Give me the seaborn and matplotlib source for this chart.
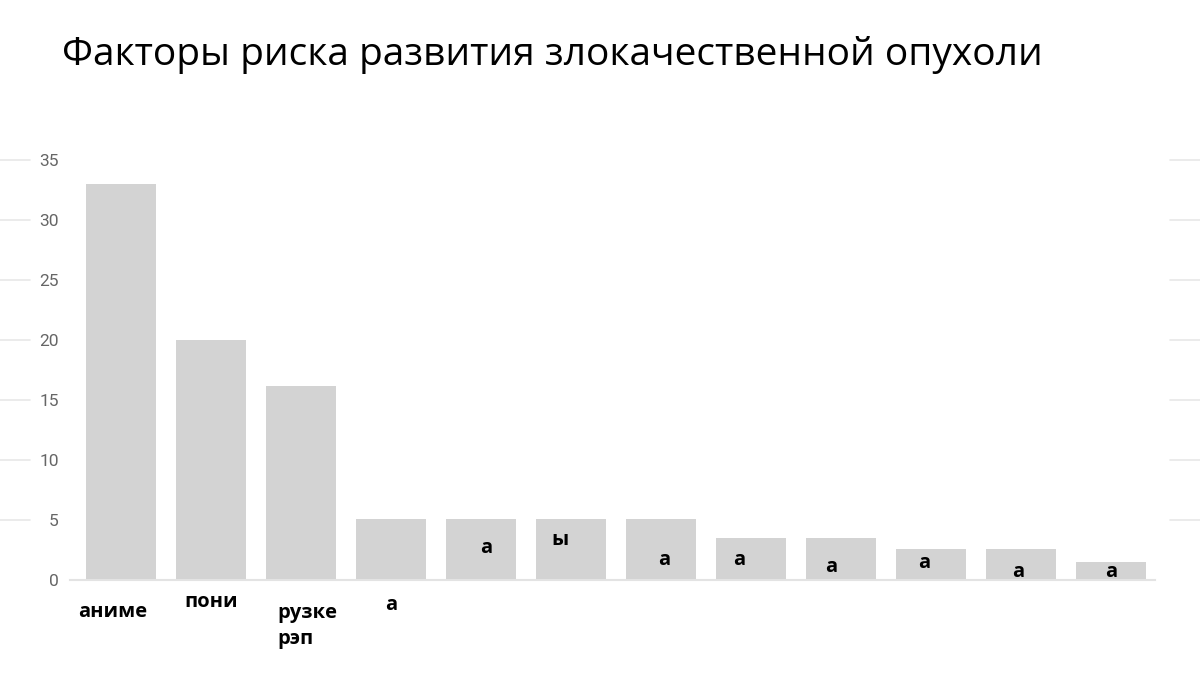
import matplotlib
matplotlib.use('Agg')
import pandas as pd
import seaborn as sns
import matplotlib.pyplot as plt
import matplotlib.transforms as mtransforms

# Данные
labels = ['аниме', 'пони', 'рузке\nрэп', 'а', 'а', 'ы', 'а', 'а', 'а', 'а', 'а', 'а']
values = [33, 20, 16.2, 5.1, 5.1, 5.1, 5.1, 3.5, 3.5, 2.6, 2.6, 1.5]
# положения подписей (в единицах осей) - подписи разбросаны как попало
label_y = [-2.65, -1.85, -3.8, -2.1, 2.7, 3.35, 1.7, 1.7, 1.1, 1.45, 0.7, 0.7]
label_dx = [-0.09, 0.0, -0.267, 0.0, 0.06, -0.12, 0.04, -0.13, -0.11, -0.07, -0.03, 0.0]
yticks = [0, 5, 10, 15, 20, 25, 30, 35]

df = pd.DataFrame({'factor': range(len(values)), 'value': values})

sns.set_style('white')
plt.rcParams['font.family'] = ['Open Sans', 'DejaVu Sans']

fig = plt.figure(figsize=(12, 6.89), dpi=100)
ax = fig.add_axes([0.0583, 0.1582, 0.9042, 0.6096])

sns.barplot(data=df, x='factor', y='value', color='#d3d3d3', saturation=1,
            width=0.778, linewidth=0, ax=ax)

ax.set_xlim(-0.567, 11.49)
ax.set_ylim(0, 35)
ax.set_yticks(yticks)
ax.set_yticklabels([str(t) for t in yticks], color='#666666', fontsize=12.5,
                   family=['Liberation Sans Narrow', 'Roboto', 'DejaVu Sans'])
ax.tick_params(axis='y', length=0, pad=8)
ax.set_xticks([])
ax.set_xlabel('')
ax.set_ylabel('')
for side in ['top', 'right', 'left']:
    ax.spines[side].set_visible(False)
ax.spines['bottom'].set_color('#e3e3e3')
ax.spines['bottom'].set_linewidth(1.5)

# обрывки сетки слева и справа
tr = mtransforms.blended_transform_factory(fig.transFigure, ax.transData)
for t in yticks[1:]:
    ax.plot([0, 0.025], [t, t], transform=tr, color='#e8e8e8', lw=1.2, clip_on=False)
    ax.plot([0.975, 1.0], [t, t], transform=tr, color='#e8e8e8', lw=1.2, clip_on=False)

# подписи
for i, (lab, ly, dx) in enumerate(zip(labels, label_y, label_dx)):
    ax.text(i + dx, ly, lab, ha='center' if '\n' not in lab else 'left',
            va='center', fontsize=14.5, fontweight='bold', color='black',
            clip_on=False, linespacing=1.4)

fig.text(0.052, 0.92, 'Факторы риска развития злокачественной опухоли',
         fontsize=28, color='black', ha='left', va='center')

fig.savefig('out.png', dpi=100, facecolor='white')
